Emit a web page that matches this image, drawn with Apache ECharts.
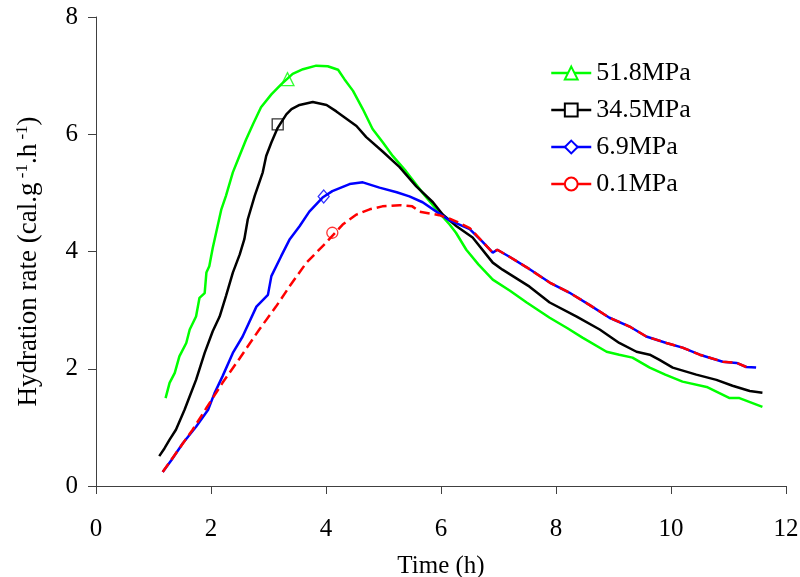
<!DOCTYPE html>
<html>
<head>
<meta charset="utf-8">
<script src="https://cdn.jsdelivr.net/npm/echarts@6/dist/echarts.min.js"></script>
<style>html,body{margin:0;padding:0;background:#fff;}#c{width:800px;height:577px;}</style>
</head>
<body>
<div id="c"></div>
<script>
// Series names (legend)
const seriesNames = ['51.8MPa', '34.5MPa', '6.9MPa', '0.1MPa'];
const xTicks = [0, 2, 4, 6, 8, 10, 12];
const yTicks = [0, 2, 4, 6, 8];

// [time (h), hydration rate]
const p518 = [[1.21,1.50],[1.28,1.76],[1.37,1.93],[1.45,2.21],[1.57,2.44],[1.63,2.67],[1.74,2.89],[1.80,3.21],[1.89,3.29],[1.92,3.64],[1.97,3.75],[2.03,4.06],[2.18,4.72],[2.26,4.95],[2.38,5.35],[2.47,5.57],[2.61,5.91],[2.73,6.17],[2.87,6.46],[3.05,6.68],[3.22,6.85],[3.42,7.03],[3.60,7.11],[3.83,7.17],[4.03,7.16],[4.21,7.10],[4.32,6.94],[4.47,6.74],[4.64,6.43],[4.81,6.09],[4.99,5.86],[5.16,5.63],[5.39,5.37],[5.68,5.00],[5.97,4.66],[6.15,4.46],[6.26,4.32],[6.44,4.03],[6.65,3.78],[6.90,3.52],[7.20,3.33],[7.49,3.13],[7.89,2.87],[8.20,2.69],[8.46,2.53],[8.88,2.29],[9.10,2.24],[9.33,2.19],[9.63,2.02],[9.90,1.90],[10.20,1.78],[10.62,1.69],[11.02,1.50],[11.19,1.50],[11.59,1.35]];
const p345 = [[1.10,0.51],[1.19,0.64],[1.28,0.79],[1.39,0.96],[1.54,1.30],[1.63,1.53],[1.74,1.81],[1.89,2.27],[2.03,2.64],[2.15,2.89],[2.26,3.24],[2.38,3.64],[2.50,3.95],[2.58,4.21],[2.64,4.55],[2.76,4.95],[2.90,5.35],[2.96,5.63],[3.05,5.86],[3.16,6.11],[3.31,6.34],[3.40,6.43],[3.54,6.50],[3.77,6.55],[4.01,6.50],[4.18,6.39],[4.53,6.14],[4.70,5.95],[4.98,5.71],[5.28,5.44],[5.57,5.11],[5.86,4.84],[6.03,4.63],[6.27,4.43],[6.55,4.24],[6.90,3.81],[7.07,3.69],[7.54,3.40],[7.89,3.13],[8.36,2.89],[8.76,2.67],[9.10,2.44],[9.40,2.29],[9.63,2.24],[9.80,2.15],[10.03,2.02],[10.44,1.90],[10.79,1.81],[11.07,1.71],[11.37,1.62],[11.59,1.59]];
const p69 = [[1.16,0.24],[1.31,0.44],[1.51,0.73],[1.74,1.01],[1.95,1.30],[2.06,1.58],[2.20,1.87],[2.38,2.27],[2.55,2.55],[2.79,3.06],[2.99,3.26],[3.05,3.58],[3.22,3.92],[3.37,4.21],[3.54,4.43],[3.71,4.68],[3.94,4.92],[4.11,5.03],[4.41,5.15],[4.64,5.18],[4.93,5.09],[5.23,5.01],[5.45,4.94],[5.68,4.84],[5.92,4.68],[6.15,4.53],[6.50,4.38],[6.72,4.17],[6.90,3.98],[6.98,4.03],[7.19,3.91],[7.49,3.73],[7.89,3.47],[8.23,3.30],[8.58,3.09],[8.93,2.87],[9.28,2.72],[9.57,2.55],[9.92,2.44],[10.20,2.36],[10.50,2.24],[10.90,2.12],[11.14,2.10],[11.31,2.03],[11.48,2.02]];
const p01 = [[1.16,0.24],[1.39,0.56],[1.68,0.96],[1.92,1.33],[2.20,1.76],[2.50,2.18],[2.84,2.67],[3.13,3.06],[3.37,3.41],[3.66,3.81],[4.00,4.15],[4.29,4.46],[4.53,4.63],[4.76,4.72],[4.98,4.77],[5.28,4.79],[5.50,4.77],[5.63,4.68],[5.97,4.62],[6.15,4.56],[6.27,4.51],[6.50,4.40],[6.72,4.17],[6.90,3.98],[6.98,4.03],[7.19,3.91],[7.49,3.73],[7.89,3.47],[8.23,3.30],[8.58,3.09],[8.93,2.87],[9.28,2.72],[9.57,2.55],[9.92,2.44],[10.20,2.36],[10.50,2.24],[10.90,2.12],[11.14,2.10],[11.31,2.03]];

// single marker point on each curve
const markers = [[3.33,6.94],[3.16,6.17],[3.96,4.94],[4.11,4.32]];

const colors = ['#00ff00', '#000000', '#0000ff', '#ff0000'];
const lineSymbols = ['emptyTriangle', 'emptyRect', 'emptyDiamond', 'emptyCircle'];
const plotSymbols = ['triangle', 'rect', 'diamond', 'circle'];
const plotSymbolSizes = [[13, 13], [11, 11], [11, 13], [11, 11]];
const dataSets = [p518, p345, p69, p01];

const FONT = '"Liberation Serif", "Times New Roman", serif';

const series = [];
dataSets.forEach((d, i) => {
  series.push({
    name: seriesNames[i],
    type: 'line',
    data: d,
    symbol: lineSymbols[i],
    symbolSize: 13,
    showSymbol: false,
    color: colors[i],
    lineStyle: { color: colors[i], width: 2.5, type: i === 3 ? [10, 5] : 'solid' },
    itemStyle: { color: colors[i] },
    animation: false,
    z: i === 3 ? 5 : 3
  });
});
dataSets.forEach((d, i) => {
  series.push({
    name: seriesNames[i] + '_m',
    type: 'scatter',
    data: [markers[i]],
    symbol: plotSymbols[i],
    symbolSize: plotSymbolSizes[i],
    itemStyle: { color: 'transparent', borderColor: colors[i], borderWidth: 1.3 },
    animation: false,
    z: 6
  });
});

const chart = echarts.init(document.getElementById('c'), null, { renderer: 'canvas' });
chart.setOption({
  backgroundColor: '#ffffff',
  animation: false,
  grid: { left: 96, right: 14, top: 17, bottom: 91, containLabel: false, outerBoundsMode: 'none' },
  legend: {
    data: seriesNames,
    orient: 'vertical',
    left: 550,
    top: 60,
    padding: 0,
    itemWidth: 40,
    itemHeight: 16,
    itemGap: 11,
    textStyle: { fontFamily: FONT, fontSize: 26, color: '#000' },
    lineStyle: { type: 'solid', width: 2.5 },
    inactiveColor: '#ccc'
  },
  xAxis: {
    type: 'value', min: 0, max: 12, interval: 2,
    name: 'Time (h)', nameLocation: 'middle', nameGap: 68,
    nameTextStyle: { fontFamily: FONT, fontSize: 25, color: '#000' },
    axisLine: { show: true, lineStyle: { color: '#404040', width: 1 } },
    axisTick: { show: true, inside: false, length: 8, lineStyle: { color: '#404040' } },
    axisLabel: { fontFamily: FONT, fontSize: 25, color: '#000', margin: 31,
      formatter: v => xTicks.includes(v) ? String(v) : '' },
    splitLine: { show: false }
  },
  yAxis: {
    type: 'value', min: 0, max: 8, interval: 2,
    name: '{n|Hydration rate (cal.g}{s| -1}{n|.h}{s| -1}{n|)}',
    nameLocation: 'middle', nameGap: 53, nameRotate: 90,
    nameTextStyle: {
      fontFamily: FONT, fontSize: 27, color: '#000', padding: [0, 20, 0, 0],
      rich: {
        n: { fontFamily: FONT, fontSize: 27, color: '#000' },
        s: { fontFamily: FONT, fontSize: 17, color: '#000', verticalAlign: 'top', padding: [0, 0, 12, 0] }
      }
    },
    axisLine: { show: true, lineStyle: { color: '#404040', width: 1 } },
    axisTick: { show: true, inside: false, length: 8, lineStyle: { color: '#404040' } },
    axisLabel: { fontFamily: FONT, fontSize: 25, color: '#000', margin: 18,
      formatter: v => yTicks.includes(v) ? String(v) : '' },
    splitLine: { show: false }
  },
  series: series
});
</script>
</body>
</html>
